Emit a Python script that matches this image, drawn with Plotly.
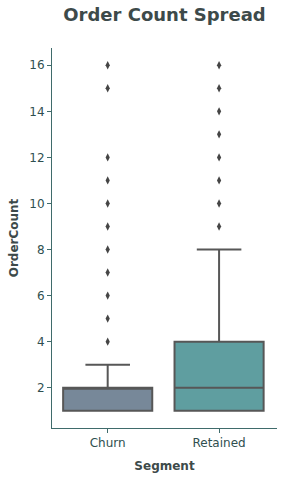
import plotly.graph_objects as go

# Data
segments = ["Churn", "Retained"]
q1_vals = [1, 1]
median_vals = [2, 2]
q3_vals = [2, 4]
lower_whisker = [1, 1]
upper_whisker = [3, 8]
churn_outliers = [4, 5, 6, 7, 8, 9, 10, 11, 12, 15, 16]
retained_outliers = [9, 10, 11, 12, 13, 14, 15, 16]
fill_colors = ["#778899", "#5f9ea0"]
y_ticks = [2, 4, 6, 8, 10, 12, 14, 16]

edge = "#575757"
axis_col = "#3f6b6b"
text_col = "#2f4f4f"
font_family = "DejaVu Sans"

fig = go.Figure()
for i, seg in enumerate(segments):
    fig.add_trace(go.Box(
        x=[seg], q1=[q1_vals[i]], median=[median_vals[i]], q3=[q3_vals[i]],
        lowerfence=[lower_whisker[i]], upperfence=[upper_whisker[i]],
        boxpoints=False, fillcolor=fill_colors[i],
        line=dict(color=edge, width=2), width=0.8, whiskerwidth=0.5,
        showlegend=False,
    ))

outliers = [churn_outliers, retained_outliers]
for i, seg in enumerate(segments):
    fig.add_trace(go.Scatter(
        x=[seg] * len(outliers[i]), y=outliers[i], mode="markers",
        marker=dict(symbol="diamond-tall", size=6, color="#454545",
                    line=dict(width=0)),
        showlegend=False,
    ))

fig.update_layout(
    width=282, height=478,
    margin=dict(l=52, r=5, t=48, b=50),
    paper_bgcolor="white", plot_bgcolor="white",
    boxmode="overlay",
    font=dict(family=font_family, color=text_col, size=12),
    title=dict(text="<b>Order Count Spread</b>", x=(52 + 277) / 2 / 282, xanchor="center",
               xref="container", y=1 - 15 / 478, yanchor="middle", yref="container",
               font=dict(family=font_family, size=18, color="#3d4a4a")),
)
fig.update_xaxes(
    type="category", categoryorder="array", categoryarray=segments,
    range=[-0.5, 1.52], showline=True, linecolor=axis_col, linewidth=1,
    ticks="outside", ticklen=4, tickcolor=axis_col, showgrid=False, zeroline=False,
    tickfont=dict(size=12, color=text_col),
    title=dict(text="<b>Segment</b>", font=dict(size=12, color="#3d4a4a"), standoff=12),
)
fig.update_yaxes(
    range=[0.25, 16.75], tickvals=y_ticks, showline=True, linecolor=axis_col,
    linewidth=1, ticks="outside", ticklen=4, tickcolor=axis_col, showgrid=False,
    zeroline=False, tickfont=dict(size=12, color=text_col),
    title=dict(text="<b>OrderCount</b>", font=dict(size=12, color="#3d4a4a"), standoff=8),
)

fig.write_html("out.html")
